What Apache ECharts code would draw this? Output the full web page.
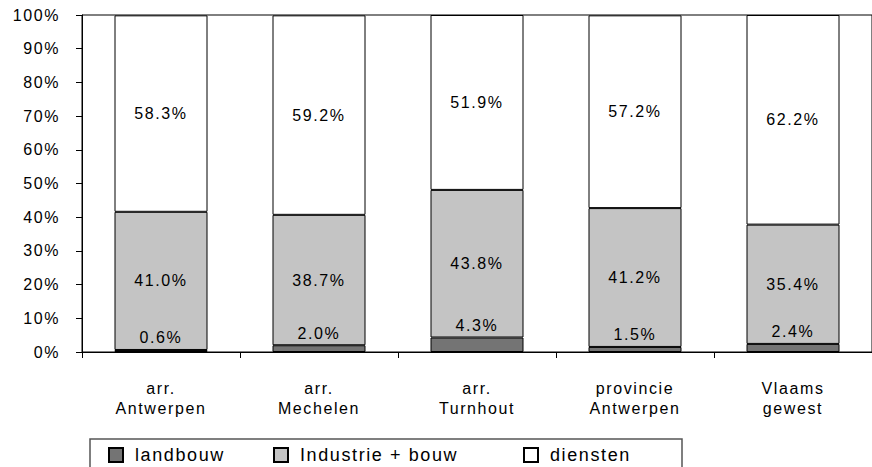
<!DOCTYPE html>
<html>
<head>
<meta charset="utf-8">
<script src="https://cdn.jsdelivr.net/npm/echarts@6/dist/echarts.min.js"></script>
<style>
html,body{margin:0;padding:0;background:#fff;}
#c{width:872px;height:467px;}
#c text{letter-spacing:1.6px;}
</style>
</head>
<body>
<div id="c"></div>
<script>
const categories = ['arr.\nAntwerpen', 'arr.\nMechelen', 'arr.\nTurnhout', 'provincie\nAntwerpen', 'Vlaams\ngewest'];
const landbouw = [0.6, 2.0, 4.3, 1.5, 2.4];
const industrie = [41.0, 38.7, 43.8, 41.2, 35.4];
const diensten = [58.3, 59.2, 51.9, 57.2, 62.2];
const seriesNames = ['landbouw', 'Industrie + bouw', 'diensten'];

const FONT = 'Liberation Sans, Arial, sans-serif';
const chart = echarts.init(document.getElementById('c'), null, {renderer: 'svg'});
const pct = p => p.value.toFixed(1) + '%';
const lbl = {show: true, formatter: pct, color: '#000', fontFamily: FONT, fontSize: 16};
const border = {borderColor: '#000', borderWidth: 1};

chart.setOption({
  animation: false,
  backgroundColor: '#fff',
  grid: {left: 82, top: 15, width: 793, height: 337, show: true, borderColor: '#000', borderWidth: 1, containLabel: false},
  xAxis: {
    type: 'category', data: categories,
    axisLine: {lineStyle: {color: '#000', width: 1}},
    axisTick: {show: true, length: 6, lineStyle: {color: '#000'}},
    axisLabel: {color: '#000', fontFamily: FONT, fontSize: 16, lineHeight: 20, margin: 26}
  },
  yAxis: {
    type: 'value', min: 0, max: 100, interval: 10,
    axisLine: {show: true, lineStyle: {color: '#000', width: 1}},
    axisTick: {show: true, length: 6, lineStyle: {color: '#000'}},
    splitLine: {show: false},
    axisLabel: {color: '#000', fontFamily: FONT, fontSize: 16, margin: 22, formatter: v => v + '%'}
  },
  legend: [0, 1, 2].map((i) => ({
    data: [seriesNames[i]],
    left: [108, 273, 523][i], top: 446, padding: 0,
    itemWidth: 14, itemHeight: 14, icon: 'rect',
    textStyle: {color: '#000', fontFamily: FONT, fontSize: 18, padding: [0, 0, 0, 7]}
  })),
  graphic: [{
    type: 'rect', shape: {x: 90, y: 439, width: 592, height: 60},
    style: {fill: 'none', stroke: '#555', lineWidth: 1.5}, silent: true
  }],
  series: [
    {name: seriesNames[0], type: 'bar', stack: 't', data: landbouw, barWidth: 93,
     itemStyle: Object.assign({color: '#747474'}, border),
     label: Object.assign({position: 'top', distance: 4}, lbl)},
    {name: seriesNames[1], type: 'bar', stack: 't', data: industrie,
     itemStyle: Object.assign({color: '#c4c4c4'}, border),
     label: Object.assign({position: 'inside'}, lbl)},
    {name: seriesNames[2], type: 'bar', stack: 't', data: diensten,
     itemStyle: Object.assign({color: '#ffffff'}, border),
     label: Object.assign({position: 'inside'}, lbl)}
  ]
});
</script>
</body>
</html>
